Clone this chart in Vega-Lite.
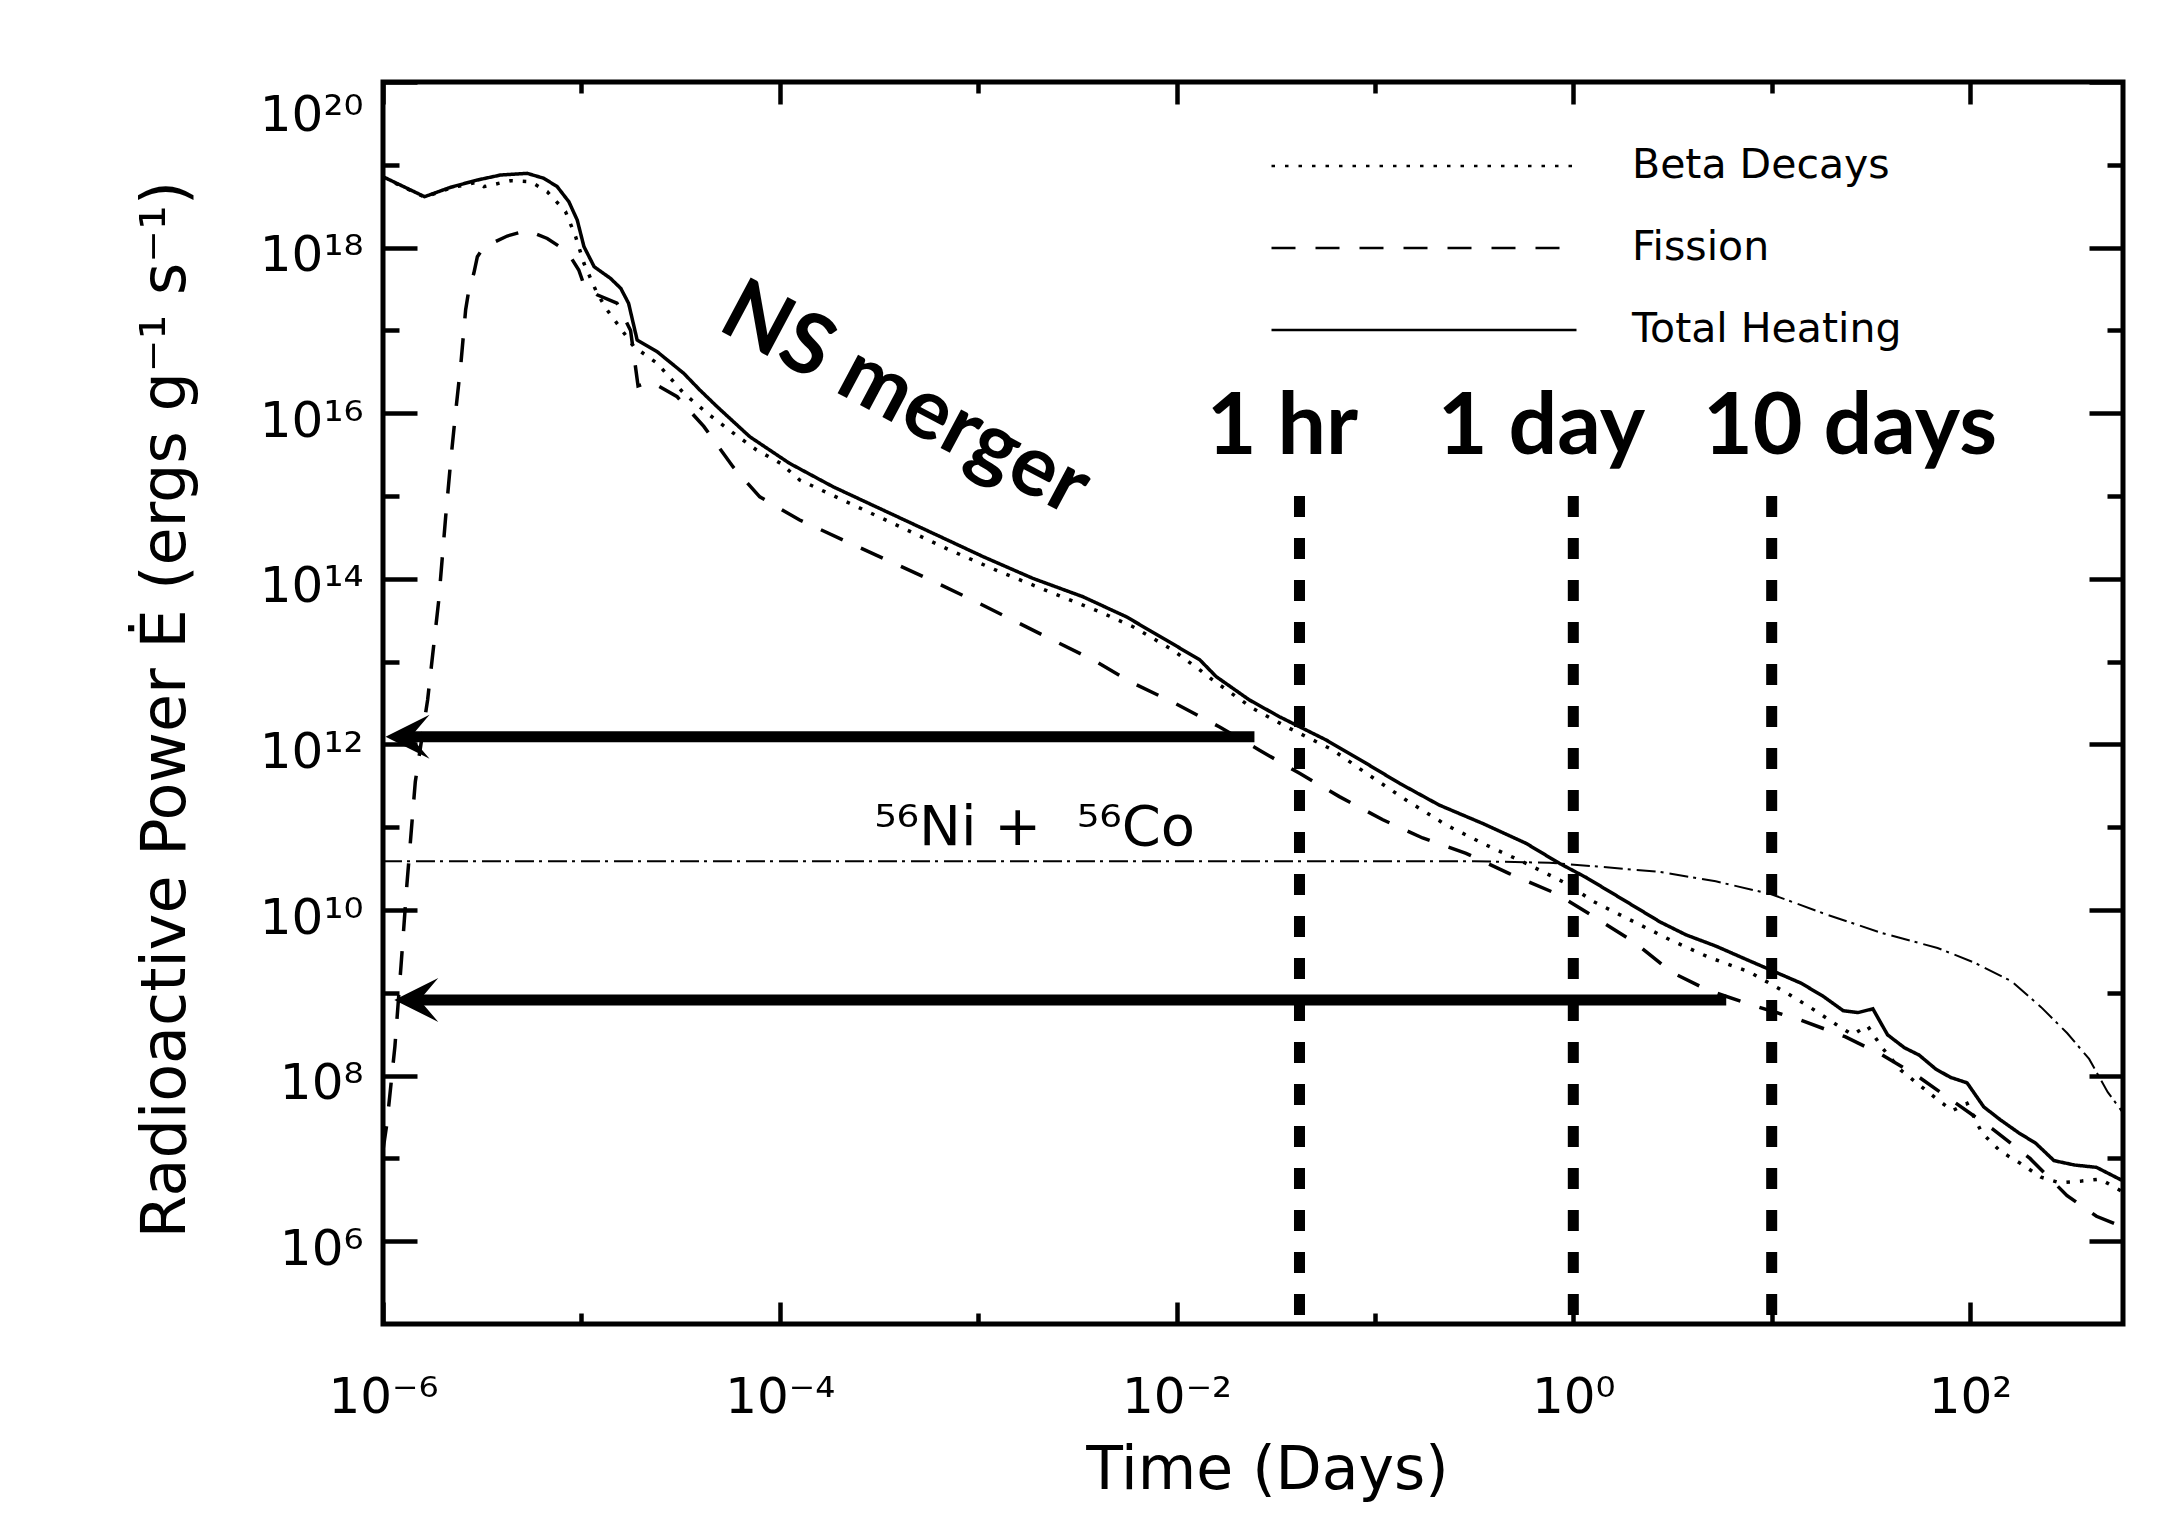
{
  "$schema": "https://vega.github.io/schema/vega-lite/v6.json",
  "width": 1740,
  "height": 1242,
  "autosize": {"type": "none"},
  "padding": {"left": 383, "top": 82, "right": 53, "bottom": 207},
  "background": "white",
  "config": {
    "view": {"stroke": "black", "strokeWidth": 5},
    "axis": {
      "domain": false,
      "grid": false,
      "tickColor": "black",
      "tickWidth": 4.5,
      "labelColor": "black",
      "titleColor": "black",
      "labelFont": "DejaVu Sans",
      "titleFont": "DejaVu Sans",
      "titleFontWeight": "normal",
      "labelOverlap": false
    }
  },
  "datasets": {
    "heating": [
      {"series": "Total Heating", "t": 1e-6, "E": 7.18e18},
      {"series": "Total Heating", "t": 1.62e-6, "E": 4.12e18},
      {"series": "Total Heating", "t": 2.19e-6, "E": 5.35e18},
      {"series": "Total Heating", "t": 2.99e-6, "E": 6.55e18},
      {"series": "Total Heating", "t": 3.92e-6, "E": 7.53e18},
      {"series": "Total Heating", "t": 5.33e-6, "E": 7.89e18},
      {"series": "Total Heating", "t": 6.47e-6, "E": 6.87e18},
      {"series": "Total Heating", "t": 7.55e-6, "E": 5.45e18},
      {"series": "Total Heating", "t": 8.65e-6, "E": 3.58e18},
      {"series": "Total Heating", "t": 9.53e-6, "E": 2.15e18},
      {"series": "Total Heating", "t": 1.03e-5, "E": 1.03e18},
      {"series": "Total Heating", "t": 1.16e-5, "E": 5.87e17},
      {"series": "Total Heating", "t": 1.40e-5, "E": 4.26e17},
      {"series": "Total Heating", "t": 1.58e-5, "E": 3.22e17},
      {"series": "Total Heating", "t": 1.73e-5, "E": 2.12e17},
      {"series": "Total Heating", "t": 1.91e-5, "E": 7.66e16},
      {"series": "Total Heating", "t": 2.41e-5, "E": 5.53e16},
      {"series": "Total Heating", "t": 3.28e-5, "E": 3.03e16},
      {"series": "Total Heating", "t": 3.95e-5, "E": 1.91e16},
      {"series": "Total Heating", "t": 4.83e-5, "E": 1.20e16},
      {"series": "Total Heating", "t": 7.06e-5, "E": 5.20e15},
      {"series": "Total Heating", "t": 1.12e-4, "E": 2.48e15},
      {"series": "Total Heating", "t": 1.86e-4, "E": 1.29e15},
      {"series": "Total Heating", "t": 3.31e-4, "E": 6.78e14},
      {"series": "Total Heating", "t": 5.93e-4, "E": 3.54e14},
      {"series": "Total Heating", "t": 1.06e-3, "E": 1.85e14},
      {"series": "Total Heating", "t": 1.89e-3, "E": 1.01e14},
      {"series": "Total Heating", "t": 3.37e-3, "E": 6.08e13},
      {"series": "Total Heating", "t": 5.58e-3, "E": 3.48e13},
      {"series": "Total Heating", "t": 8.87e-3, "E": 1.82e13},
      {"series": "Total Heating", "t": 1.31e-2, "E": 1.05e13},
      {"series": "Total Heating", "t": 1.585e-2, "E": 6.58e12},
      {"series": "Total Heating", "t": 2.33e-2, "E": 3.44e12},
      {"series": "Total Heating", "t": 3.30e-2, "E": 2.16e12},
      {"series": "Total Heating", "t": 5.68e-2, "E": 1.13e12},
      {"series": "Total Heating", "t": 9.04e-2, "E": 5.90e11},
      {"series": "Total Heating", "t": 0.133, "E": 3.39e11},
      {"series": "Total Heating", "t": 0.211, "E": 1.85e11},
      {"series": "Total Heating", "t": 0.349, "E": 1.11e11},
      {"series": "Total Heating", "t": 0.578, "E": 6.38e10},
      {"series": "Total Heating", "t": 0.851, "E": 3.66e10},
      {"series": "Total Heating", "t": 1.164, "E": 2.46e10},
      {"series": "Total Heating", "t": 1.786, "E": 1.33e10},
      {"series": "Total Heating", "t": 2.742, "E": 7.16e9},
      {"series": "Total Heating", "t": 3.707, "E": 5.00e9},
      {"series": "Total Heating", "t": 5.224, "E": 3.67e9},
      {"series": "Total Heating", "t": 7.362, "E": 2.56e9},
      {"series": "Total Heating", "t": 10.38, "E": 1.79e9},
      {"series": "Total Heating", "t": 14.03, "E": 1.31e9},
      {"series": "Total Heating", "t": 18.11, "E": 9.14e8},
      {"series": "Total Heating", "t": 22.96, "E": 6.07e8},
      {"series": "Total Heating", "t": 27.23, "E": 5.77e8},
      {"series": "Total Heating", "t": 32.36, "E": 6.40e8},
      {"series": "Total Heating", "t": 38.37, "E": 3.11e8},
      {"series": "Total Heating", "t": 46.67, "E": 2.17e8},
      {"series": "Total Heating", "t": 55.34, "E": 1.77e8},
      {"series": "Total Heating", "t": 67.14, "E": 1.20e8},
      {"series": "Total Heating", "t": 79.62, "E": 9.53e7},
      {"series": "Total Heating", "t": 96.6, "E": 8.17e7},
      {"series": "Total Heating", "t": 117.2, "E": 4.19e7},
      {"series": "Total Heating", "t": 142.2, "E": 2.92e7},
      {"series": "Total Heating", "t": 176.2, "E": 2.03e7},
      {"series": "Total Heating", "t": 213.8, "E": 1.53e7},
      {"series": "Total Heating", "t": 264.9, "E": 9.40e6},
      {"series": "Total Heating", "t": 335.7, "E": 8.32e6},
      {"series": "Total Heating", "t": 433.5, "E": 7.80e6},
      {"series": "Total Heating", "t": 590, "E": 5.35e6},

      {"series": "Beta Decays", "t": 1e-6, "E": 7.08e18},
      {"series": "Beta Decays", "t": 1.62e-6, "E": 4.07e18},
      {"series": "Beta Decays", "t": 2.19e-6, "E": 5.25e18},
      {"series": "Beta Decays", "t": 2.99e-6, "E": 6.17e18},
      {"series": "Beta Decays", "t": 3.23e-6, "E": 5.45e18},
      {"series": "Beta Decays", "t": 4.40e-6, "E": 6.43e18},
      {"series": "Beta Decays", "t": 5.55e-6, "E": 6.25e18},
      {"series": "Beta Decays", "t": 6.73e-6, "E": 4.73e18},
      {"series": "Beta Decays", "t": 8.32e-6, "E": 2.72e18},
      {"series": "Beta Decays", "t": 9.35e-6, "E": 1.36e18},
      {"series": "Beta Decays", "t": 1.03e-5, "E": 6.46e17},
      {"series": "Beta Decays", "t": 1.20e-5, "E": 2.81e17},
      {"series": "Beta Decays", "t": 1.35e-5, "E": 1.76e17},
      {"series": "Beta Decays", "t": 1.51e-5, "E": 1.22e17},
      {"series": "Beta Decays", "t": 1.84e-5, "E": 6.35e16},
      {"series": "Beta Decays", "t": 2.41e-5, "E": 4.01e16},
      {"series": "Beta Decays", "t": 3.28e-5, "E": 1.74e16},
      {"series": "Beta Decays", "t": 4.31e-5, "E": 9.98e15},
      {"series": "Beta Decays", "t": 5.86e-5, "E": 5.71e15},
      {"series": "Beta Decays", "t": 7.64e-5, "E": 3.60e15},
      {"series": "Beta Decays", "t": 1.01e-4, "E": 2.48e15},
      {"series": "Beta Decays", "t": 1.26e-4, "E": 1.56e15},
      {"series": "Beta Decays", "t": 2.25e-4, "E": 8.17e14},
      {"series": "Beta Decays", "t": 4.03e-4, "E": 4.27e14},
      {"series": "Beta Decays", "t": 7.18e-4, "E": 2.23e14},
      {"series": "Beta Decays", "t": 1.28e-3, "E": 1.22e14},
      {"series": "Beta Decays", "t": 2.29e-3, "E": 6.98e13},
      {"series": "Beta Decays", "t": 4.09e-3, "E": 4.01e13},
      {"series": "Beta Decays", "t": 6.03e-3, "E": 2.64e13},
      {"series": "Beta Decays", "t": 9.57e-3, "E": 1.38e13},
      {"series": "Beta Decays", "t": 1.31e-2, "E": 7.93e12},
      {"series": "Beta Decays", "t": 1.52e-2, "E": 6.00e12},
      {"series": "Beta Decays", "t": 2.42e-2, "E": 2.73e12},
      {"series": "Beta Decays", "t": 3.57e-2, "E": 1.64e12},
      {"series": "Beta Decays", "t": 6.14e-2, "E": 8.55e11},
      {"series": "Beta Decays", "t": 9.04e-2, "E": 4.48e11},
      {"series": "Beta Decays", "t": 0.1435, "E": 2.13e11},
      {"series": "Beta Decays", "t": 0.229, "E": 1.06e11},
      {"series": "Beta Decays", "t": 0.363, "E": 6.10e10},
      {"series": "Beta Decays", "t": 0.578, "E": 3.66e10},
      {"series": "Beta Decays", "t": 0.918, "E": 2.10e10},
      {"series": "Beta Decays", "t": 1.268, "E": 1.26e10},
      {"series": "Beta Decays", "t": 2.032, "E": 7.16e9},
      {"series": "Beta Decays", "t": 3.119, "E": 4.29e9},
      {"series": "Beta Decays", "t": 4.797, "E": 2.70e9},
      {"series": "Beta Decays", "t": 7.691, "E": 1.79e9},
      {"series": "Beta Decays", "t": 11.8, "E": 1.01e9},
      {"series": "Beta Decays", "t": 16.63, "E": 6.07e8},
      {"series": "Beta Decays", "t": 21.53, "E": 4.02e8},
      {"series": "Beta Decays", "t": 25.59, "E": 3.11e8},
      {"series": "Beta Decays", "t": 30.34, "E": 4.02e8},
      {"series": "Beta Decays", "t": 36.06, "E": 2.17e8},
      {"series": "Beta Decays", "t": 44.67, "E": 1.17e8},
      {"series": "Beta Decays", "t": 55.34, "E": 7.74e7},
      {"series": "Beta Decays", "t": 68.55, "E": 5.13e7},
      {"series": "Beta Decays", "t": 81.47, "E": 3.77e7},
      {"series": "Beta Decays", "t": 96.6, "E": 4.62e7},
      {"series": "Beta Decays", "t": 114.8, "E": 2.03e7},
      {"series": "Beta Decays", "t": 142.2, "E": 1.22e7},
      {"series": "Beta Decays", "t": 176.2, "E": 8.95e6},
      {"series": "Beta Decays", "t": 228.0, "E": 5.93e6},
      {"series": "Beta Decays", "t": 282.5, "E": 5.07e6},
      {"series": "Beta Decays", "t": 365.6, "E": 5.33e6},
      {"series": "Beta Decays", "t": 452.9, "E": 5.62e6},
      {"series": "Beta Decays", "t": 590, "E": 3.93e6},

      {"series": "Fission", "t": 1e-6, "E": 1.26e7},
      {"series": "Fission", "t": 1.045e-6, "E": 2.57e7},
      {"series": "Fission", "t": 1.148e-6, "E": 2.24e8},
      {"series": "Fission", "t": 1.233e-6, "E": 2.14e9},
      {"series": "Fission", "t": 1.321e-6, "E": 2.09e10},
      {"series": "Fission", "t": 1.455e-6, "E": 3.55e11},
      {"series": "Fission", "t": 1.679e-6, "E": 3.47e12},
      {"series": "Fission", "t": 1.91e-6, "E": 5.50e13},
      {"series": "Fission", "t": 2.07e-6, "E": 5.62e14},
      {"series": "Fission", "t": 2.19e-6, "E": 2.51e15},
      {"series": "Fission", "t": 2.32e-6, "E": 1.0e16},
      {"series": "Fission", "t": 2.47e-6, "E": 3.98e16},
      {"series": "Fission", "t": 2.61e-6, "E": 1.78e17},
      {"series": "Fission", "t": 2.71e-6, "E": 3.09e17},
      {"series": "Fission", "t": 2.87e-6, "E": 4.90e17},
      {"series": "Fission", "t": 2.99e-6, "E": 7.76e17},
      {"series": "Fission", "t": 3.23e-6, "E": 1.02e18},
      {"series": "Fission", "t": 4.23e-6, "E": 1.38e18},
      {"series": "Fission", "t": 5.33e-6, "E": 1.62e18},
      {"series": "Fission", "t": 6.73e-6, "E": 1.29e18},
      {"series": "Fission", "t": 8.49e-6, "E": 8.91e17},
      {"series": "Fission", "t": 9.70e-6, "E": 5.37e17},
      {"series": "Fission", "t": 1.03e-5, "E": 3.55e17},
      {"series": "Fission", "t": 1.20e-5, "E": 2.69e17},
      {"series": "Fission", "t": 1.51e-5, "E": 2.14e17},
      {"series": "Fission", "t": 1.77e-5, "E": 1.0e17},
      {"series": "Fission", "t": 1.93e-5, "E": 2.14e16},
      {"series": "Fission", "t": 2.24e-5, "E": 2.40e16},
      {"series": "Fission", "t": 3.04e-5, "E": 1.58e16},
      {"series": "Fission", "t": 4.14e-5, "E": 6.92e15},
      {"series": "Fission", "t": 5.82e-5, "E": 2.24e15},
      {"series": "Fission", "t": 7.93e-5, "E": 9.77e14},
      {"series": "Fission", "t": 1.26e-4, "E": 5.13e14},
      {"series": "Fission", "t": 2.08e-4, "E": 2.95e14},
      {"series": "Fission", "t": 3.44e-4, "E": 1.70e14},
      {"series": "Fission", "t": 5.70e-4, "E": 9.77e13},
      {"series": "Fission", "t": 9.42e-4, "E": 5.50e13},
      {"series": "Fission", "t": 1.50e-3, "E": 3.16e13},
      {"series": "Fission", "t": 2.38e-3, "E": 1.82e13},
      {"series": "Fission", "t": 3.79e-3, "E": 1.05e13},
      {"series": "Fission", "t": 6.03e-3, "E": 5.50e12},
      {"series": "Fission", "t": 9.95e-3, "E": 3.09e12},
      {"series": "Fission", "t": 1.65e-2, "E": 1.62e12},
      {"series": "Fission", "t": 2.62e-2, "E": 8.51e11},
      {"series": "Fission", "t": 4.17e-2, "E": 4.47e11},
      {"series": "Fission", "t": 6.62e-2, "E": 2.34e11},
      {"series": "Fission", "t": 0.1096, "E": 1.23e11},
      {"series": "Fission", "t": 0.174, "E": 7.41e10},
      {"series": "Fission", "t": 0.288, "E": 4.84e10},
      {"series": "Fission", "t": 0.476, "E": 2.75e10},
      {"series": "Fission", "t": 0.819, "E": 1.58e10},
      {"series": "Fission", "t": 1.268, "E": 8.32e9},
      {"series": "Fission", "t": 2.032, "E": 4.07e9},
      {"series": "Fission", "t": 3.119, "E": 1.78e9},
      {"series": "Fission", "t": 4.797, "E": 1.07e9},
      {"series": "Fission", "t": 8.017, "E": 7.08e8},
      {"series": "Fission", "t": 14.03, "E": 4.68e8},
      {"series": "Fission", "t": 23.44, "E": 2.95e8},
      {"series": "Fission", "t": 36.06, "E": 1.78e8},
      {"series": "Fission", "t": 55.34, "E": 9.55e7},
      {"series": "Fission", "t": 85.11, "E": 4.62e7},
      {"series": "Fission", "t": 130.6, "E": 2.24e7},
      {"series": "Fission", "t": 200.4, "E": 1.0e7},
      {"series": "Fission", "t": 308.3, "E": 3.55e6},
      {"series": "Fission", "t": 433.5, "E": 2.0e6},
      {"series": "Fission", "t": 590, "E": 1.48e6}
    ],
    "nickelCobalt": [
      {"t": 1e-6, "E": 3.89e10},
      {"t": 0.316, "E": 3.88e10},
      {"t": 0.757, "E": 3.72e10},
      {"t": 1.321, "E": 3.35e10},
      {"t": 2.742, "E": 2.88e10},
      {"t": 5.224, "E": 2.22e10},
      {"t": 9.954, "E": 1.55e10},
      {"t": 18.92, "E": 8.81e9},
      {"t": 36.06, "E": 5.26e9},
      {"t": 68.55, "E": 3.48e9},
      {"t": 105.4, "E": 2.31e9},
      {"t": 161.8, "E": 1.38e9},
      {"t": 228.0, "E": 6.71e8},
      {"t": 308.3, "E": 3.27e8},
      {"t": 398.1, "E": 1.59e8},
      {"t": 494.3, "E": 6.31e7},
      {"t": 590, "E": 3.55e7}
    ],
    "epochs": [
      {"t": 0.041667, "label": "1 hr"},
      {"t": 1, "label": "1 day"},
      {"t": 10, "label": "10 days"}
    ],
    "epochLabels": [
      {"t": 0.0342, "E": 3.2e15, "label": "1 hr"},
      {"t": 0.69, "E": 3.2e15, "label": "1 day"},
      {"t": 24.8, "E": 3.2e15, "label": "10 days"}
    ],
    "arrows": [
      {"E": 1.24e12, "tip": 1.03e-6, "start": 1.19e-6, "end": 0.0247},
      {"E": 8.2e8, "tip": 1.14e-6, "start": 1.31e-6, "end": 5.9}
    ],
    "notes": [
      {"t": 4.3e-4, "E": 1.45e16, "text": "NS merger"}
    ],
    "isotopes": [
      {"t": 2.99e-4, "E": 6.1e10, "text": "⁵⁶Ni\u00a0+\u00a0\u00a0⁵⁶Co"}
    ]
  },
  "layer": [
    {
      "data": {"name": "heating"},
      "mark": {"type": "line", "clip": true, "color": "black", "strokeWidth": 3.5},
      "encoding": {
        "x": {
          "field": "t", "type": "quantitative",
          "scale": {"type": "log", "domain": [1e-6, 590], "nice": false},
          "axis": {
            "orient": "bottom",
            "values": [1e-6, 1e-5, 1e-4, 1e-3, 1e-2, 1e-1, 1, 10, 100],
            "tickSize": {"condition": {"test": "round(log(datum.value)/LN10) % 2 == 0", "value": -22}, "value": -11},
            "labelExpr": "['10⁻⁶','','10⁻⁴','','10⁻²','','10⁰','','10²'][round(log(datum.value)/LN10)+6]",
            "labelFontSize": 50,
            "labelPadding": 70,
            "labelFlush": false,
            "title": "Time (Days)",
            "titleFontSize": 60,
            "titleX": 884,
            "titleY": 164,
            "titleAlign": "center",
            "titleBaseline": "alphabetic"
          }
        },
        "y": {
          "field": "E", "type": "quantitative",
          "scale": {"type": "log", "domain": [1e5, 1e20], "nice": false},
          "axis": {
            "orient": "left",
            "values": [1e6, 1e7, 1e8, 1e9, 1e10, 1e11, 1e12, 1e13, 1e14, 1e15, 1e16, 1e17, 1e18, 1e19, 1e20],
            "tickSize": {"condition": {"test": "round(log(datum.value)/LN10) % 2 == 0", "value": -34}, "value": -16},
            "labelExpr": "round(log(datum.value)/LN10) % 2 != 0 ? '' : ['10⁶','10⁸','10¹⁰','10¹²','10¹⁴','10¹⁶','10¹⁸','10²⁰'][(round(log(datum.value)/LN10)-6)/2]",
            "labelFontSize": 50,
            "labelPadding": 54,
            "labelOffset": 8,
            "labelFlush": true,
            "title": "Radioactive Power Ė (ergs g⁻¹ s⁻¹)",
            "titleFontSize": 62,
            "titleAngle": 270,
            "titleX": -218,
            "titleY": 627,
            "titleAlign": "center",
            "titleBaseline": "middle"
          }
        },
        "strokeDash": {
          "field": "series", "type": "nominal",
          "scale": {"domain": ["Beta Decays", "Fission", "Total Heating"], "range": [[3.5, 10], [24, 20], [1, 0]]},
          "legend": {
            "orient": "none",
            "legendX": 887,
            "legendY": 62,
            "title": null,
            "padding": 0,
            "symbolType": "stroke",
            "symbolSize": 93025,
            "symbolStrokeWidth": 2.5,
            "symbolStrokeColor": "black",
            "clipHeight": 44,
            "rowPadding": 38,
            "labelOffset": 54,
            "labelFont": "DejaVu Sans",
            "labelFontSize": 41,
            "labelColor": "black",
            "labelLimit": 0,
            "labelBaseline": "middle"
          }
        }
      }
    },
    {
      "data": {"name": "nickelCobalt"},
      "mark": {"type": "line", "clip": true, "color": "black", "strokeWidth": 2, "strokeDash": [19, 5, 3, 6]},
      "encoding": {
        "x": {"field": "t", "type": "quantitative", "scale": {"type": "log", "domain": [1e-6, 590], "nice": false}, "axis": null},
        "y": {"field": "E", "type": "quantitative", "scale": {"type": "log", "domain": [1e5, 1e20], "nice": false}, "axis": null}
      }
    },
    {
      "data": {"name": "epochs"},
      "mark": {"type": "rule", "color": "black", "strokeWidth": 11, "strokeDash": [21, 21]},
      "encoding": {
        "x": {
          "field": "t", "type": "quantitative",
          "scale": {"type": "log", "domain": [1e-6, 590], "nice": false},
          "axis": {
            "orient": "top",
            "values": [1e-6, 1e-5, 1e-4, 1e-3, 1e-2, 1e-1, 1, 10, 100],
            "tickSize": {"condition": {"test": "round(log(datum.value)/LN10) % 2 == 0", "value": -22}, "value": -11},
            "labels": false,
            "title": null
          }
        },
        "y": {
          "datum": 1e15, "type": "quantitative",
          "scale": {"type": "log", "domain": [1e5, 1e20], "nice": false},
          "axis": {
            "orient": "right",
            "values": [1e6, 1e7, 1e8, 1e9, 1e10, 1e11, 1e12, 1e13, 1e14, 1e15, 1e16, 1e17, 1e18, 1e19, 1e20],
            "tickSize": {"condition": {"test": "round(log(datum.value)/LN10) % 2 == 0", "value": -34}, "value": -16},
            "labels": false,
            "title": null
          }
        },
        "y2": {"datum": 1e5}
      }
    },
    {
      "data": {"name": "arrows"},
      "mark": {"type": "rule", "color": "black", "strokeWidth": 11},
      "encoding": {
        "x": {"field": "start", "type": "quantitative", "scale": {"type": "log", "domain": [1e-6, 590], "nice": false}, "axis": null},
        "x2": {"field": "end"},
        "y": {"field": "E", "type": "quantitative", "scale": {"type": "log", "domain": [1e5, 1e20], "nice": false}, "axis": null}
      }
    },
    {
      "data": {"name": "arrows"},
      "mark": {"type": "point", "shape": "M0,0L2,-1L1.15,0L2,1Z", "filled": true, "size": 1936, "color": "black", "opacity": 1, "strokeWidth": 0},
      "encoding": {
        "x": {"field": "tip", "type": "quantitative", "scale": {"type": "log", "domain": [1e-6, 590], "nice": false}, "axis": null},
        "y": {"field": "E", "type": "quantitative", "scale": {"type": "log", "domain": [1e5, 1e20], "nice": false}, "axis": null}
      }
    },
    {
      "data": {"name": "notes"},
      "mark": {"type": "text", "font": "Lato", "fontWeight": "bold", "fontSize": 85, "angle": 28, "align": "center", "baseline": "middle", "color": "black"},
      "encoding": {
        "x": {"field": "t", "type": "quantitative", "scale": {"type": "log", "domain": [1e-6, 590], "nice": false}, "axis": null},
        "y": {"field": "E", "type": "quantitative", "scale": {"type": "log", "domain": [1e5, 1e20], "nice": false}, "axis": null},
        "text": {"field": "text"}
      }
    },
    {
      "data": {"name": "epochLabels"},
      "mark": {"type": "text", "font": "Lato", "fontWeight": "bold", "fontSize": 86, "align": "center", "baseline": "alphabetic", "color": "black"},
      "encoding": {
        "x": {"field": "t", "type": "quantitative", "scale": {"type": "log", "domain": [1e-6, 590], "nice": false}, "axis": null},
        "y": {"field": "E", "type": "quantitative", "scale": {"type": "log", "domain": [1e5, 1e20], "nice": false}, "axis": null},
        "text": {"field": "label"}
      }
    },
    {
      "data": {"name": "isotopes"},
      "mark": {"type": "text", "font": "DejaVu Sans", "fontSize": 56, "align": "left", "baseline": "alphabetic", "color": "black"},
      "encoding": {
        "x": {"field": "t", "type": "quantitative", "scale": {"type": "log", "domain": [1e-6, 590], "nice": false}, "axis": null},
        "y": {"field": "E", "type": "quantitative", "scale": {"type": "log", "domain": [1e5, 1e20], "nice": false}, "axis": null},
        "text": {"field": "text"}
      }
    }
  ],
  "resolve": {"axis": {"x": "independent", "y": "independent"}}
}
